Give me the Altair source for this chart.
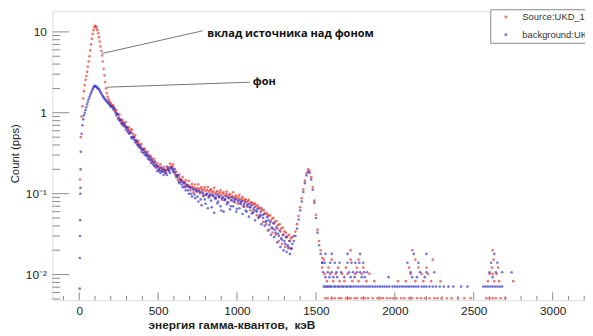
import altair as alt
import pandas as pd

SRC = "Source:UKD_1"
BKG = "background:UKD_1"

# ---------- Source (red) : peak region, 5 keV step ----------
red_peak_e = [5, 10, 15, 20, 25, 30, 35, 40, 45, 50, 55, 60, 65, 70, 75, 80, 85, 90, 95, 100,
              105, 110, 115, 120, 125, 130, 135, 140, 145, 150, 155, 160, 165, 170, 175, 180,
              185, 190, 195, 200, 205]
red_peak_v = [0.15, 0.5, 0.9, 1.2, 1.5, 1.85, 2.2, 2.55, 2.85, 3.2, 3.7, 4.3, 5.0, 5.9, 7.0, 8.2,
              9.4, 10.5, 11.4, 11.9, 11.7, 11.2, 10.5, 9.6, 8.6, 7.6, 6.6, 5.8, 5.1, 4.3, 3.5,
              2.9, 2.4, 2.0, 1.75, 1.58, 1.47, 1.4, 1.34, 1.3, 1.25]

# ---------- continuum 210..1540 keV, 10 keV step ----------
cont_e = list(range(210, 1550, 10))
red_cont_v = [1.22, 1.14, 1.06, 0.97, 0.88, 0.83, 0.78, 0.74, 0.71, 0.67,
              0.62, 0.58, 0.57, 0.55, 0.5, 0.46, 0.43, 0.41, 0.38, 0.36,
              0.35, 0.33, 0.31, 0.29, 0.28, 0.26, 0.25, 0.24, 0.225, 0.215,
              0.21, 0.205, 0.2, 0.195, 0.195, 0.2, 0.21, 0.215, 0.22, 0.205,
              0.185, 0.17, 0.16, 0.152, 0.147, 0.14, 0.136, 0.13, 0.127, 0.124,
              0.12, 0.122, 0.118, 0.115, 0.117, 0.113, 0.116, 0.11, 0.114, 0.108,
              0.112, 0.106, 0.11, 0.104, 0.107, 0.101, 0.105, 0.099, 0.103, 0.097,
              0.101, 0.095, 0.099, 0.093, 0.097, 0.091, 0.094, 0.089, 0.092, 0.087,
              0.09, 0.085, 0.087, 0.082, 0.084, 0.079, 0.081, 0.076, 0.078, 0.073,
              0.075, 0.07, 0.072, 0.066, 0.067, 0.062, 0.063, 0.058, 0.057, 0.053,
              0.054, 0.049, 0.05, 0.045, 0.046, 0.041, 0.042, 0.037, 0.038, 0.034,
              0.033, 0.03, 0.031, 0.028, 0.029, 0.03, 0.034, 0.042, 0.053, 0.068,
              0.088, 0.113, 0.145, 0.178, 0.2, 0.192, 0.16, 0.12, 0.082, 0.055,
              0.036, 0.026, 0.02, 0.016]

# interleaved bins 215..1345 keV (10 keV step)
mid_e = list(range(215, 1350, 10))
red_mid_v = [1.24, 1.05, 1.08, 0.86, 0.95, 0.74, 0.81, 0.68, 0.77, 0.58,
             0.66, 0.62, 0.62, 0.49, 0.53, 0.41, 0.45, 0.37, 0.41, 0.32,
             0.36, 0.30, 0.33, 0.262, 0.29, 0.242, 0.27, 0.212, 0.238, 0.197,
             0.23, 0.19, 0.213, 0.18, 0.217, 0.195, 0.235, 0.215, 0.231, 0.179,
             0.187, 0.149, 0.172, 0.14, 0.16, 0.124, 0.146, 0.122, 0.144, 0.11,
             0.132, 0.104, 0.13, 0.106, 0.131, 0.101, 0.121, 0.093, 0.121, 0.096,
             0.121, 0.092, 0.113, 0.094, 0.118, 0.086, 0.108, 0.09, 0.11, 0.084,
             0.105, 0.084, 0.106, 0.078, 0.099, 0.083, 0.104, 0.078, 0.095, 0.075,
             0.097, 0.074, 0.091, 0.069, 0.085, 0.069, 0.084, 0.062, 0.077, 0.06,
             0.075, 0.054, 0.067, 0.052, 0.065, 0.045, 0.056, 0.042, 0.054, 0.036,
             0.046, 0.033, 0.043, 0.031, 0.037, 0.026, 0.034, 0.024, 0.031, 0.022,
             0.029, 0.021, 0.026, 0.021]

# ---------- Background (blue) : peak region ----------
blue_peak_e = [3, 4, 5, 6, 7, 8, 9, 10, 15, 20, 25, 30, 35, 40, 45, 50, 55, 60, 65, 70, 75, 80,
               85, 90, 95, 100, 105, 110, 115, 120, 125, 130, 135, 140, 145, 150, 155, 160,
               165, 170, 175, 180, 185, 190, 195, 200, 205]
blue_peak_v = [0.0067, 0.016, 0.03, 0.047, 0.1, 0.118, 0.2, 0.33, 0.55, 0.7, 0.83, 0.93, 1.0,
               1.08, 1.17, 1.27, 1.37, 1.47, 1.57, 1.67, 1.76, 1.86, 1.96, 2.05, 2.12, 2.15,
               2.13, 2.08, 2.03, 2.0, 1.95, 1.88, 1.8, 1.73, 1.66, 1.6, 1.55, 1.5, 1.46, 1.42,
               1.38, 1.35, 1.31, 1.28, 1.24, 1.2, 1.18]
blue_cont_v = [1.18, 1.16, 1.0, 0.98, 0.84, 0.8, 0.74, 0.75, 0.68, 0.66,
               0.6, 0.56, 0.5, 0.51, 0.46, 0.45, 0.4, 0.4, 0.36, 0.35,
               0.32, 0.33, 0.29, 0.3, 0.26, 0.27, 0.23, 0.25, 0.21, 0.22,
               0.19, 0.21, 0.185, 0.2, 0.18, 0.21, 0.19, 0.205, 0.2, 0.185,
               0.17, 0.165, 0.14, 0.15, 0.13, 0.138, 0.12, 0.128, 0.11, 0.12,
               0.1, 0.115, 0.098, 0.11, 0.092, 0.108, 0.085, 0.104, 0.095, 0.075,
               0.1, 0.09, 0.098, 0.068, 0.094, 0.088, 0.097, 0.08, 0.092, 0.062,
               0.09, 0.083, 0.093, 0.078, 0.088, 0.07, 0.09, 0.08, 0.085, 0.065,
               0.083, 0.076, 0.081, 0.07, 0.078, 0.06, 0.074, 0.068, 0.072, 0.058,
               0.068, 0.062, 0.065, 0.052, 0.06, 0.054, 0.056, 0.045, 0.051, 0.047,
               0.044, 0.038, 0.043, 0.036, 0.039, 0.032, 0.035, 0.028, 0.031, 0.026,
               0.029, 0.023, 0.026, 0.021, 0.024, 0.026, 0.03, 0.037, 0.048, 0.062,
               0.08, 0.105, 0.135, 0.168, 0.186, 0.18, 0.15, 0.112, 0.077, 0.05,
               0.033, 0.023, 0.018, 0.014]
blue_mid_v = [1.1, 1.12, 0.93, 0.95, 0.8, 0.82, 0.7, 0.73, 0.62, 0.65,
              0.55, 0.57, 0.48, 0.5, 0.43, 0.44, 0.38, 0.39, 0.33, 0.35,
              0.3, 0.31, 0.27, 0.28, 0.24, 0.25, 0.22, 0.225, 0.19, 0.2,
              0.18, 0.195, 0.17, 0.19, 0.17, 0.2, 0.18, 0.21, 0.19, 0.2,
              0.16, 0.17, 0.135, 0.145, 0.12, 0.135, 0.11, 0.125, 0.1, 0.118,
              0.092, 0.112, 0.088, 0.108, 0.08, 0.104, 0.072, 0.1, 0.085, 0.098,
              0.066, 0.095, 0.082, 0.097, 0.058, 0.09, 0.076, 0.093, 0.07, 0.088,
              0.06, 0.086, 0.074, 0.089, 0.064, 0.083, 0.07, 0.085, 0.06, 0.08,
              0.066, 0.079, 0.056, 0.074, 0.062, 0.072, 0.052, 0.068, 0.057, 0.064,
              0.047, 0.06, 0.05, 0.055, 0.042, 0.05, 0.04, 0.046, 0.035, 0.041,
              0.031, 0.037, 0.029, 0.033, 0.025, 0.03, 0.022, 0.027, 0.02, 0.024,
              0.019, 0.022, 0.018, 0.021]

# ---------- sparse high-energy points (quantised count levels) ----------
blue_hi = {
    0.0071: [1550, 1560, 1570, 1580, 1590, 1600, 1615, 1625, 1640, 1650, 1665, 1675, 1690, 1700,
             1715, 1725, 1740, 1755, 1770, 1785, 1800, 1815, 1830, 1845, 1860, 1875, 1890, 1905,
             1920, 1935, 1950, 1965, 1985, 2000, 2015, 2030, 2045, 2060, 2075, 2090, 2105, 2120,
             2135, 2150, 2170, 2185, 2200, 2220, 2240, 2260, 2285, 2310, 2340, 2370, 2420, 2460,
             2560, 2575, 2590, 2605, 2620, 2635, 2650, 2665, 2680],
    0.0093: [1560, 1585, 1610, 1635, 1680, 1720, 1745, 1790, 1810, 1960, 2110, 2140, 2190, 2620],
    0.0107: [1545, 1575, 1600, 1630, 1660, 1710, 1735, 1760, 1780, 1805, 1825, 2100, 2160, 2200,
             2250, 2600, 2640, 2680, 2740],
    0.014: [1540, 1555, 1590, 1620, 1650, 1700, 1725, 1750, 1775, 1800, 2080, 2150, 2610, 2650],
    0.018: [1560, 1600, 1700, 1780, 2120, 2200, 2630],
}
red_hi = {
    0.0051: [1560, 1575, 1600, 1620, 1645, 1660, 1690, 1705, 1720, 1745, 1760, 1790, 1810, 1830,
             1860, 1890, 1910, 1925, 1950, 1970, 1990, 2010, 2040, 2060, 2090, 2110, 2140, 2165,
             2190, 2220, 2250, 2270, 2295, 2330, 2360, 2400, 2440, 2480, 2580, 2600, 2620, 2640,
             2670, 2700],
    0.0083: [1570, 1610, 1650, 1680, 1730, 1770, 1820, 1870, 2020, 2070, 2130, 2180, 2230, 2290,
             2590, 2630, 2660, 2750],
    0.0102: [1555, 1590, 1625, 1665, 1700, 1750, 1790, 1840, 2100, 2170, 2210, 2600, 2620, 2645],
    0.0122: [1540, 1580, 1640, 1690, 1760, 1800, 2090, 2150, 2200, 2615, 2655],
    0.0153: [1550, 1600, 1720, 1770, 2130, 2240, 2625],
    0.02: [1720, 2110, 2620],
}

# ---------- axis ticks ----------
X_MAJOR = [0, 500, 1000, 1500, 2000, 2500, 3000]
X_MINOR = [e for e in range(-100, 3201, 100) if e not in X_MAJOR]
Y_MAJOR = [0.01, 0.1, 1, 10]
Y_MINOR = [m * d for d in [0.001, 0.01, 0.1, 1] for m in range(2, 10) if 0.0049 < m * d < 18]

# ---------- annotations ----------
ann_text = ["вклад источника над фоном", "фон"]
ann_text_e = [812, 1100]
ann_text_v = [9.5, 2.39]
ann_line_e = [144, 175]
ann_line_v = [5.4, 2.07]
ann_line_e2 = [781, 1081]
ann_line_v2 = [10.3, 2.39]

# ---------- build tables ----------
rows = []
for e, v in zip(red_peak_e + cont_e + mid_e, red_peak_v + red_cont_v + red_mid_v):
    rows.append((e, v, SRC, 0))
for lvl, es in red_hi.items():
    for e in es:
        rows.append((e, lvl, SRC, 0))
for e, v in zip(blue_peak_e + cont_e + mid_e, blue_peak_v + blue_cont_v + blue_mid_v):
    rows.append((e, v, BKG, 1))
for lvl, es in blue_hi.items():
    for e in es:
        rows.append((e, lvl, BKG, 1))
pts = pd.DataFrame(rows, columns=["E", "v", "series", "ord"])

FONT = "Liberation Sans"
xscale = alt.Scale(domain=[-170, 3205], nice=False, zero=False)
yscale = alt.Scale(type="log", domain=[0.00482, 18.0], nice=False)

X_AX = alt.Axis(values=X_MAJOR, format="d", ticks=False, tickSize=0, domain=False,
                grid=False, labelFont=FONT, labelFontSize=12, labelColor="#222",
                labelPadding=5, labelFlush=False,
                title="энергия гамма-квантов,\u00a0\u00a0кэВ", titleFont=FONT,
                titleFontSize=12, titleFontWeight="bold", titleColor="#222",
                titleAnchor="start", titleAlign="left", titleX=97, titleY=29,
                titleBaseline="alphabetic")
Y_AX = alt.Axis(values=Y_MAJOR, ticks=False, tickSize=0, domain=False, grid=False,
                labelExpr="datum.value >= 5 ? '10' : datum.value >= 0.5 ? '1' : "
                          "datum.value >= 0.05 ? '10⁻¹' : '10⁻²'",
                labelFont=FONT, labelFontSize=12, labelColor="#222", labelPadding=6,
                title="Count (pps)", titleFont=FONT, titleFontSize=11.5,
                titleFontWeight="normal", titleColor="#222",
                titleX=-37, titleY=144, titleBaseline="middle", titleAlign="center")


def X(field="E"):
    return alt.X(f"{field}:Q", scale=xscale, axis=X_AX)


def Y(field="v"):
    return alt.Y(f"{field}:Q", scale=yscale, axis=Y_AX)


points = alt.Chart(pts).mark_circle(size=7, opacity=0.68).encode(
    x=X(), y=Y(),
    color=alt.Color("series:N",
                    scale=alt.Scale(domain=[SRC, BKG], range=["#e8302a", "#3434c8"]),
                    legend=alt.Legend(orient="none", legendX=444, legendY=-2, title=None,
                                      strokeColor="#888", fillColor="white", padding=3,
                                      symbolType="circle", symbolSize=10, symbolOffset=8,
                                      symbolOpacity=0.6, labelOffset=12, labelFont=FONT,
                                      labelFontSize=9.5, labelColor="#333", rowPadding=7,
                                      labelLimit=300)),
    order=alt.Order("ord:Q"),
)

xt_major = pd.DataFrame({"E": X_MAJOR})
xt_minor = pd.DataFrame({"E": X_MINOR})
yt_major = pd.DataFrame({"v": Y_MAJOR})
yt_minor = pd.DataFrame({"v": Y_MINOR})

TICK = "#8a8a8a"
xmaj = alt.Chart(xt_major).mark_rule(color=TICK, strokeWidth=1).encode(
    x=X(), y=alt.value(293), y2=alt.value(285))
xmin = alt.Chart(xt_minor).mark_rule(color=TICK, strokeWidth=1).encode(
    x=X(), y=alt.value(293), y2=alt.value(288.5))
ymaj = alt.Chart(yt_major).mark_rule(color=TICK, strokeWidth=1).encode(
    y=Y(), x=alt.value(0), x2=alt.value(17))
ymin = alt.Chart(yt_minor).mark_rule(color=TICK, strokeWidth=1).encode(
    y=Y(), x=alt.value(0), x2=alt.value(8))

ann_l = pd.DataFrame({"E": ann_line_e, "v": ann_line_v, "E2": ann_line_e2, "v2": ann_line_v2})
ann_t = pd.DataFrame({"E": ann_text_e, "v": ann_text_v, "t": ann_text})

lines = alt.Chart(ann_l).mark_rule(color="#666", strokeWidth=0.9).encode(
    x=X(), y=Y(), x2="E2:Q", y2="v2:Q")
texts = alt.Chart(ann_t).mark_text(align="left", baseline="middle", font="Open Sans",
                                   fontWeight="bold", fontSize=11.2, color="#111").encode(
    x=X(), y=Y(), text="t:N")

chart = alt.layer(points, xmaj, xmin, ymaj, ymin, lines, texts).properties(
    width=540, height=293,
    padding={"left": 45, "top": 1, "right": 0, "bottom": 34},
    autosize=alt.AutoSizeParams(type="none"),
).configure_view(stroke="#999", strokeWidth=1).configure(background="white")

chart.save("out.html", embed_options={"renderer": "svg", "actions": False})
